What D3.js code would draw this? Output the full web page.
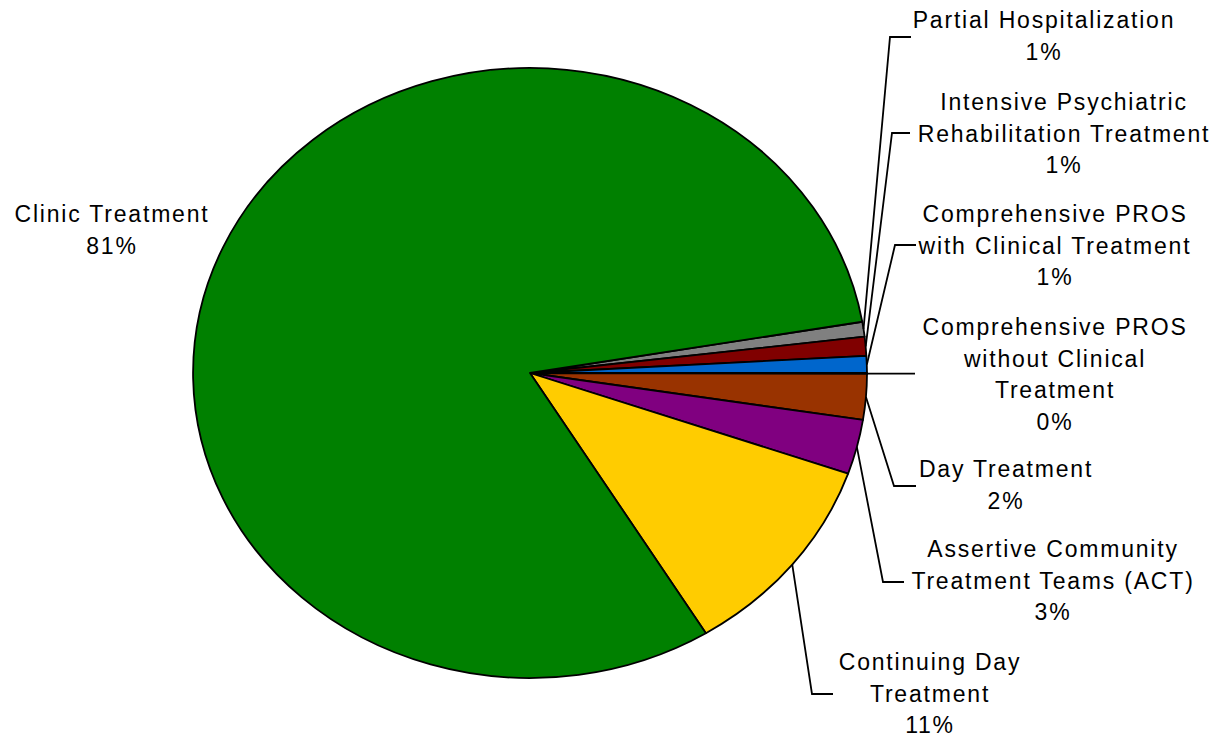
<!DOCTYPE html>
<html>
<head>
<meta charset="utf-8">
<script src="https://cdn.jsdelivr.net/npm/d3@7"></script>
<style>
  html, body { margin: 0; padding: 0; background: #fff; }
  svg { display: block; }
  text { font-family: "Liberation Sans", Arial, sans-serif; font-size: 23px; fill: #000; letter-spacing: 1.8px; }
</style>
</head>
<body>
<svg id="chart" width="1221" height="737"></svg>
<script>
// Program share by service type (percent of total), clockwise order
const categories = [
  "Partial Hospitalization",
  "Intensive Psychiatric Rehabilitation Treatment",
  "Comprehensive PROS with Clinical Treatment",
  "Comprehensive PROS without Clinical Treatment",
  "Day Treatment",
  "Assertive Community Treatment Teams (ACT)",
  "Continuing Day Treatment",
  "Clinic Treatment"
];
const values = [0.8, 1.0, 0.9, 0.05, 2.4, 2.9, 10.9, 81.05];
const colors = ["#808080", "#800000", "#0066CC", "#000000", "#993300", "#800080", "#FFCC00", "#008000"];

// How each category name wraps in its label
const labelLines = [
  ["Partial Hospitalization"],
  ["Intensive Psychiatric", "Rehabilitation Treatment"],
  ["Comprehensive PROS", "with Clinical Treatment"],
  ["Comprehensive PROS", "without Clinical", "Treatment"],
  ["Day Treatment"],
  ["Assertive Community", "Treatment Teams (ACT)"],
  ["Continuing Day", "Treatment"],
  ["Clinic Treatment"]
];

// Label placement: centre x, first baseline y, leader elbow (null = no leader)
const labelPos = [
  { x: 1044, y: 28,  elbow: [890, 37],  end: 911 },
  { x: 1064, y: 110, elbow: [892, 133], end: 910 },
  { x: 1055, y: 222, elbow: [895, 245], end: 916 },
  { x: 1055, y: 335, elbow: null,       end: 915 },
  { x: 1006, y: 477, elbow: [894, 486], end: 916 },
  { x: 1053, y: 557, elbow: [883, 582], end: 904 },
  { x: 930,  y: 670, elbow: [812, 694], end: 833 },
  { x: 112,  y: 222, elbow: null,       end: null }
];

const cx = 530, cy = 373, rx = 337, ry = 305;
const lineH = 31.5;
const total = d3.sum(values);
const startAngle = 80.3 * Math.PI / 180;

const svg = d3.select("#chart");

const pie = d3.pie().sort(null).value(d => d)
  .startAngle(startAngle).endAngle(startAngle + 2 * Math.PI);
const arcs = pie(values);
const arc = d3.arc().innerRadius(0).outerRadius(1);

// Slices drawn on a unit circle, stretched into the ellipse
const pieG = svg.append("g")
  .attr("transform", `translate(${cx},${cy}) scale(${rx},${ry})`);

pieG.selectAll("path")
  .data(arcs)
  .join("path")
  .attr("d", arc)
  .attr("fill", (d, i) => colors[i])
  .attr("stroke", "#000")
  .attr("stroke-width", 1.8)
  .attr("stroke-linejoin", "round")
  .attr("vector-effect", "non-scaling-stroke");

// Edge point of a slice at its mid angle, in page coordinates
function edgePoint(d, k) {
  const a = (d.startAngle + d.endAngle) / 2;
  return [cx + rx * k * Math.sin(a), cy - ry * k * Math.cos(a)];
}

// Leader lines
const leaders = svg.append("g")
  .attr("fill", "none")
  .attr("stroke", "#000")
  .attr("stroke-width", 1.8);

arcs.forEach((d, i) => {
  const p = labelPos[i];
  if (p.end === null) return;
  const s = edgePoint(d, 1.0);
  let pts;
  if (p.elbow) {
    pts = [s, p.elbow, [p.end, p.elbow[1]]];
  } else {
    pts = [s, [p.end, s[1]]];
  }
  leaders.append("path").attr("d", d3.line()(pts));
});

// Labels: category name lines plus rounded percentage
const labelsG = svg.append("g").attr("text-anchor", "middle");
arcs.forEach((d, i) => {
  const p = labelPos[i];
  const pct = Math.round(d.value / total * 100) + "%";
  const lines = labelLines[i].concat([pct]);
  const t = labelsG.append("text");
  lines.forEach((ln, j) => {
    t.append("tspan")
      .attr("x", p.x)
      .attr("y", p.y + j * lineH)
      .text(ln);
  });
});
</script>
</body>
</html>
